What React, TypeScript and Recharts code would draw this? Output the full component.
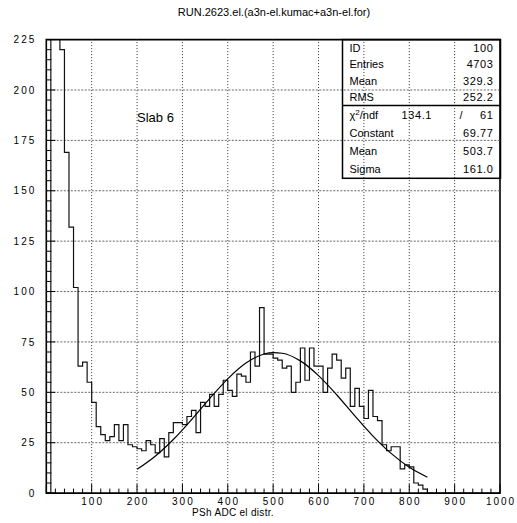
import {
  ComposedChart,
  Line,
  XAxis,
  YAxis,
  ReferenceLine,
  ReferenceArea,
} from "recharts";

// ── Data ─────────────────────────────────────────────────────────────

// PSh ADC counts per 10-channel bin, 0..1000 (bins 1-3 run off scale)
const binWidth = 10;
const binCounts = [
  0, 450, 330, 220, 169, 132, 102, 63, 65, 55,
  45, 33, 29, 26, 28, 34, 26, 34, 24, 23,
  22, 21, 26, 24, 20, 27, 18, 30, 35, 35,
  34, 38, 41, 30, 45, 43, 49, 43, 49, 56,
  51, 48, 59, 58, 55, 70, 63, 92, 69, 69,
  67, 66, 62, 63, 50, 55, 72, 56, 72, 63,
  63, 50, 62, 69, 66, 57, 62, 43, 52, 43,
  37, 51, 38, 36, 24, 21, 23, 23, 12, 14,
  13, 5, 4, 2, 0, 0, 0, 0, 0, 0,
  0, 0, 0, 0, 0, 0, 0, 0, 0, 0,
];

// gaussian fit, sampled along the fit range
const fitX = [200, 240, 280, 320, 360, 400, 440, 480, 500, 520, 560, 600, 640, 680, 720, 760, 800, 840];
const fitY = [11.8, 18.3, 26.6, 36.4, 46.9, 56.7, 64.5, 69.0, 69.7, 69.4, 65.6, 58.3, 48.8, 38.3, 28.3, 19.7, 12.8, 7.9];

const xTicks = Array.from({ length: 51 }, (_, i) => i * 20);
const yTicks = Array.from({ length: 46 }, (_, i) => i * 5);
const xGrid = [100, 200, 300, 400, 500, 600, 700, 800, 900];
const yGrid = [25, 50, 75, 100, 125, 150, 175, 200];

const statsTop = [
  ["ID", "100"],
  ["Entries", "4703"],
  ["Mean", "329.3"],
  ["RMS", "252.2"],
];
const statsFit = [
  ["Constant", "69.77"],
  ["Mean", "503.7"],
  ["Sigma", "161.0"],
];

const histData = [
  ...binCounts.map((n, i) => ({ x: i * binWidth, n })),
  { x: binCounts.length * binWidth, n: 0 },
];
const fitData = fitX.map((x, i) => ({ x, f: fitY[i] }));

// ── Layout ───────────────────────────────────────────────────────────

const W = 517;
const H = 523;
const FONT = "'Liberation Sans', Arial, sans-serif";

// ticks point into the frame; labels only on the major ones
const XTick = (props: any) => {
  const { x, y, payload } = props;
  const v = payload.value as number;
  const major = v % 100 === 0;
  return (
    <g>
      <line x1={x} x2={x} y1={y} y2={y - (major ? 9 : 4.5)} stroke="#000" strokeWidth={1} />
      {major && v > 0 && (
        <text
          x={x + 1}
          y={y + 11.5}
          textAnchor="middle"
          fontFamily={FONT}
          fontSize={10}
          letterSpacing={2}
          fill="#000"
        >
          {v}
        </text>
      )}
    </g>
  );
};

const YTick = (props: any) => {
  const { x, y, payload } = props;
  const v = payload.value as number;
  const major = v % 25 === 0;
  return (
    <g>
      <line x1={x} x2={x + (major ? 9 : 5)} y1={y} y2={y} stroke="#000" strokeWidth={1} />
      {major && (
        <text
          x={x - 10}
          y={y}
          dy="0.36em"
          textAnchor="end"
          fontFamily={FONT}
          fontSize={10}
          letterSpacing={2}
          fill="#000"
        >
          {v}
        </text>
      )}
    </g>
  );
};

// ── Component ────────────────────────────────────────────────────────

export default function App() {
  const boxX = 342.5;
  const boxY = 39.6;
  const boxW = 158;
  const sepY = 105.6;
  const boxBottom = 178.3;
  const topRow = (sepY - boxY) / 4;
  const fitRow = (boxBottom - sepY) / 4;
  const chiY = sepY + fitRow * 0.5 + 4;

  return (
    <div
      style={{
        position: "absolute",
        left: 0,
        top: 0,
        width: W,
        height: H,
        background: "#fff",
      }}
    >
      <ComposedChart width={W} height={H} margin={{ top: 39.6, right: 17, bottom: 0, left: 0 }}>
        <XAxis
          dataKey="x"
          type="number"
          domain={[0, 1000]}
          ticks={xTicks}
          interval={0}
          height={29.9}
          tickSize={0}
          tickMargin={0}
          tickLine={false}
          axisLine={false}
          tick={XTick}
          allowDataOverflow
        />
        <YAxis
          type="number"
          domain={[0, 225]}
          ticks={yTicks}
          interval={0}
          width={46.3}
          tickSize={0}
          tickMargin={0}
          tickLine={false}
          axisLine={false}
          tick={YTick}
          allowDataOverflow
        />
        {xGrid.map((v) => (
          <ReferenceLine key={`gx${v}`} x={v} stroke="#333" strokeDasharray="1 2" strokeWidth={1} />
        ))}
        {yGrid.map((v) => (
          <ReferenceLine key={`gy${v}`} y={v} stroke="#666" strokeDasharray="2 1.5" strokeWidth={1} />
        ))}
        <Line
          data={histData}
          dataKey="n"
          type="stepAfter"
          stroke="#111"
          strokeWidth={1.2}
          dot={false}
          activeDot={false}
          isAnimationActive={false}
        />
        <Line
          data={fitData}
          dataKey="f"
          type="monotone"
          stroke="#000"
          strokeWidth={1.2}
          dot={false}
          activeDot={false}
          isAnimationActive={false}
        />
        <ReferenceArea
          x1={0}
          x2={1000}
          y1={0}
          y2={225}
          fill="none"
          stroke="#000"
          strokeWidth={1.6}
          ifOverflow="visible"
        />
      </ComposedChart>

      <svg
        width={W}
        height={H}
        style={{ position: "absolute", left: 0, top: 0, pointerEvents: "none" }}
      >
        <text x={274} y={16} textAnchor="middle" fontFamily={FONT} fontSize={11} fill="#000">
          RUN.2623.el.(a3n-el.kumac+a3n-el.for)
        </text>
        <text x={137} y={121.5} fontFamily={FONT} fontSize={13} fill="#000">
          Slab 6
        </text>
        <text x={233} y={516} textAnchor="middle" fontFamily={FONT} fontSize={10} letterSpacing={0.3} fill="#000">
          PSh ADC el distr.
        </text>

        <rect x={boxX} y={boxY} width={boxW} height={boxBottom - boxY} fill="none" stroke="#000" strokeWidth={1.5} />
        <line x1={boxX} x2={boxX + boxW} y1={sepY} y2={sepY} stroke="#000" strokeWidth={1.5} />
        {statsTop.map(([k, v], i) => {
          const cy = boxY + topRow * (i + 0.5) + 4;
          return (
            <g key={`s${i}`} fontFamily={FONT} fontSize={11} fill="#000">
              <text x={boxX + 7} y={cy}>{k}</text>
              <text x={boxX + boxW - 7} y={cy} textAnchor="end" letterSpacing={0.6}>{v}</text>
            </g>
          );
        })}
        <g fontFamily={FONT} fontSize={11} fill="#000">
          <text x={boxX + 7} y={chiY}>
            χ<tspan dy={-4} fontSize={8}>2</tspan>
            <tspan dy={4}>/ndf</tspan>
          </text>
          <text x={boxX + 59} y={chiY} letterSpacing={0.6}>134.1</text>
          <text x={boxX + 117} y={chiY}>/</text>
          <text x={boxX + boxW - 7} y={chiY} textAnchor="end" letterSpacing={0.6}>61</text>
        </g>
        {statsFit.map(([k, v], i) => {
          const cy = sepY + fitRow * (i + 1.5) + 4;
          return (
            <g key={`f${i}`} fontFamily={FONT} fontSize={11} fill="#000">
              <text x={boxX + 7} y={cy}>{k}</text>
              <text x={boxX + boxW - 7} y={cy} textAnchor="end" letterSpacing={0.6}>{v}</text>
            </g>
          );
        })}
      </svg>
    </div>
  );
}
